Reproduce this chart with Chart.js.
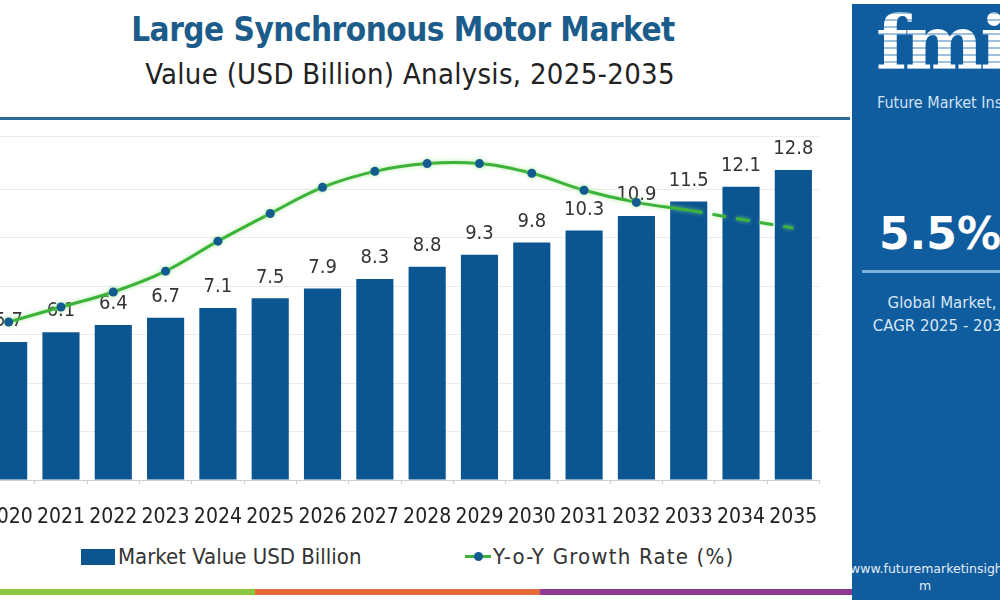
<!DOCTYPE html>
<html>
<head>
<meta charset="utf-8">
<script src="https://cdn.jsdelivr.net/npm/chart.js@4.4.1/dist/chart.umd.min.js"></script>
<style>
    html, body { margin: 0; padding: 0; }
    body { width: 1000px; height: 600px; position: relative; overflow: hidden; background: #fff;
           font-family: "DejaVu Sans Condensed", Roboto, sans-serif; }
    #c { position: absolute; left: -22px; top: 0; }
    .title { position: absolute; left: 0; width: 806px; top: 10px; text-align: center;
             font: bold 33px "DejaVu Sans Condensed", Roboto, sans-serif; color: #1c5c8b; letter-spacing: -0.5px; }
    .sub { position: absolute; left: 0; width: 820px; top: 57px; text-align: center;
           font-size: 29px; color: #222; letter-spacing: 0.3px; }
    .rule { position: absolute; left: 0; width: 850px; top: 117px; height: 3px; background: #2f6a94; }
    .leg { position: absolute; top: 544px; font-size: 22px; color: #333; line-height: 26px; white-space: nowrap; }
    .leg .box { display: inline-block; width: 34px; height: 16px; background: #0b5591; vertical-align: -1px; margin-right: 3px; }
    .leg .ln { display: inline-block; width: 26px; height: 3px; background: #3db23a; position: relative; vertical-align: 6px; margin-right: 2px; }
    .leg .ln i { position: absolute; left: 9px; top: -3px; width: 9px; height: 9px; border-radius: 50%; background: #135a91; }
    .panel { position: absolute; left: 852px; top: 4px; width: 148px; height: 596px; background: #0f5c9e; color: #fff; text-align: center; overflow: hidden; }
    .logo { position: absolute; left: 24px; top: -4px; font: bold 74px "DejaVu Serif", serif; letter-spacing: -3px;
            color: #fff; background: repeating-linear-gradient(#fff 0 5px, #9fc1dd 5px 7px);
            -webkit-background-clip: text; background-clip: text; -webkit-text-fill-color: transparent; }
    .fmi-name { position: absolute; left: 25px; top: 89px; white-space: nowrap; font-size: 16px; color: #cfe2f3; }
    .cagr { position: absolute; left: 27px; top: 204px; white-space: nowrap; font: bold 44px "DejaVu Sans", sans-serif; }
    .sep { position: absolute; left: 10px; width: 140px; top: 266px; height: 3px; background: #7fb0d9; }
    .gm { position: absolute; left: 10px; width: 160px; top: 288px; font: 15px "DejaVu Sans", sans-serif; line-height: 23px; color: #d6e6f4; white-space: nowrap; }
    .url { position: absolute; left: -2px; width: 160px; top: 556px; font: 12.5px "DejaVu Sans", sans-serif; line-height: 17px; color: #e5eef7; white-space: nowrap; text-align: left; }
    .url span { display: block; text-align: center; width: 150px; }
    .stripe { position: absolute; top: 589px; height: 6px; }
</style>
</head>
<body>
<div class="title">Large Synchronous Motor Market</div>
<div class="sub">Value (USD Billion) Analysis, 2025-2035</div>
<div class="rule"></div>

<canvas id="c" width="846" height="532"></canvas>

<div class="leg" style="left:81px"><span class="box"></span>Market Value USD Billion</div>
<div class="leg" style="left:465px; letter-spacing:1.2px"><span class="ln"><i></i></span>Y-o-Y Growth Rate (%)</div>

<div class="stripe" style="left:0;width:255px;background:#8cc63f"></div>
<div class="stripe" style="left:255px;width:285px;background:#e2693a"></div>
<div class="stripe" style="left:540px;width:312px;background:#8b3a8f"></div>

<div class="panel">
    <div class="logo">fmi</div>
    <div class="fmi-name">Future Market Insights</div>
    <div class="cagr">5.5%</div>
    <div class="sep"></div>
    <div class="gm">Global Market,<br>CAGR 2025 - 2035</div>
    <div class="url">www.futuremarketinsights.co<span>m</span></div>
</div>

<script>
(function () {

    const years = ['2020', '2021', '2022', '2023', '2024', '2025', '2026', '2027',
                   '2028', '2029', '2030', '2031', '2032', '2033', '2034', '2035'];

    const marketValue = [5.7, 6.1, 6.4, 6.7, 7.1, 7.5, 7.9, 8.3,
                         8.8, 9.3, 9.8, 10.3, 10.9, 11.5, 12.1, 12.8];

    // growth rate (no axis shown)
    const growthRate = [3.26, 3.57, 3.88, 4.31, 4.93, 5.50, 6.04, 6.37,
                        6.53, 6.53, 6.33, 5.98, 5.73, 5.57, 5.38, 5.20];

    const FONT = '"DejaVu Sans Condensed", Roboto, sans-serif';

    // value labels above the bars
    let barLabels = {
        id: 'barLabels',
        afterDatasetDraw: function (chart, args) {
            if (args.index !== 0) return;
            const ctx = chart.ctx;
            ctx.save();
            ctx.font = '20px ' + FONT;
            ctx.fillStyle = '#333';
            ctx.textAlign = 'center';
            ctx.textBaseline = 'middle';
            args.meta.data.forEach(function (bar, i) {
                ctx.fillText(marketValue[i], bar.x, bar.y - 21);
            });
            ctx.restore();
        }
    };

    let glow = {
        id: 'glow',
        beforeDatasetDraw: function (chart, args) {
            if (args.index !== 1) return;
            chart.ctx.save();
            chart.ctx.shadowColor = 'rgba(140, 230, 120, 0.7)';
            chart.ctx.shadowBlur = 4;
        },
        afterDatasetDraw: function (chart, args) {
            if (args.index !== 1) return;
            chart.ctx.restore();
        }
    };

    const data = {
        labels: years,
        datasets: [{
                type: 'bar',
                label: 'Market Value USD Billion',
                data: marketValue,
                backgroundColor: '#0b5591',
                barPercentage: 0.71,
                categoryPercentage: 1,
                yAxisID: 'y',
                order: 1
            }, {
                type: 'line',
                label: 'Y-o-Y Growth Rate (%)',
                data: growthRate,
                borderColor: '#3db23a',
                borderWidth: 3,
                tension: 0.4,
                pointRadius: growthRate.map(function (v, i) { return i < 13 ? 4.5 : 0; }),
                pointBackgroundColor: '#135a91',
                pointBorderWidth: 0,
                segment: {
                    borderDash: function (c) { return c.p0DataIndex >= 13 ? [14, 10] : undefined; }
                },
                yAxisID: 'y1',
                order: 0
            }]
    };

    const config = {
        type: 'bar',
        data: data,
        plugins: [barLabels, glow],
        options: {
            animation: false,
            responsive: false,
            layout: { padding: { top: 136, left: 0, right: 0, bottom: 0 } },
            scales: {
                x: {
                    offset: true,
                    border: { display: true, color: '#d0d0d0' },
                    grid: {
                        offset: true,
                        drawOnChartArea: false,
                        drawTicks: true,
                        tickLength: 4,
                        color: '#d0d0d0'
                    },
                    ticks: {
                        autoSkip: false,
                        maxRotation: 0,
                        padding: 21,
                        color: '#222',
                        font: { family: FONT, size: 21 }
                    },
                    afterFit: function (s) {
                        s.height = 52;
                        s.paddingLeft = 0;
                        s.paddingRight = 0;
                    }
                },
                y: {
                    min: 0,
                    max: 14.2,
                    ticks: { display: false, stepSize: 2 },
                    border: { display: false },
                    grid: { color: '#ececec', drawTicks: false },
                    afterFit: function (s) { s.width = 0; }
                },
                y1: {
                    display: false,
                    min: 0,
                    max: 7.1
                }
            },
            plugins: {
                title: { display: false },
                legend: { display: false },
                tooltip: { enabled: false }
            }
        }
    };

    const myChart = new Chart(document.getElementById('c').getContext('2d'), config);

})();
</script>
</body>
</html>
